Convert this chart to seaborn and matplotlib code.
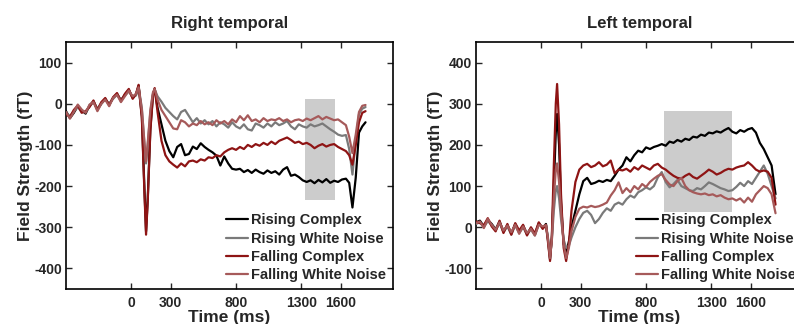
import numpy as np
import pandas as pd
import matplotlib
matplotlib.use("Agg")
import matplotlib.pyplot as plt
import seaborn as sns

sns.set_theme(style="ticks")
plt.rcParams.update({
    'font.family': ['Liberation Sans', 'DejaVu Sans'],
    'font.weight': 'bold',
    'axes.labelweight': 'bold',
    'axes.titleweight': 'bold',
    'axes.edgecolor': 'black',
    'axes.linewidth': 1.2,
    'axes.unicode_minus': False,
})

# ---- data (ms, fT) ----
t_left = [-500, -470, -440, -410, -380, -350, -320, -290, -260, -230,
          -200, -170, -140, -110, -80, -50, -20,
          10, 35, 55, 80, 100, 112, 125, 145, 165, 178, 200,
          230, 260, 290, 320, 350, 380, 410, 440, 470, 500,
          530, 560, 590, 620, 650, 680, 710, 740, 770, 800,
          830, 860, 890, 920, 950, 980, 1010, 1040, 1070, 1100,
          1130, 1160, 1190, 1220, 1250, 1280, 1310, 1340, 1370, 1400,
          1430, 1460, 1490, 1520, 1550, 1580, 1610, 1640,
          1665, 1690, 1715, 1740, 1765, 1790]

rt_rising_complex = [-18, -35, -22, -6, -16, -24, -4, 6, -14, 0,
                     12, -2, 14, 24, 8, 22, 34,
                     14, 22, 44, -30, -210, -310, -230, -60, 22, 36, -10,
                     -50, -90, -115, -130, -105, -98, -125, -122, -104, -110,
                     -96, -105, -112, -118, -126, -150, -128, -145, -158, -160,
                     -158, -166, -161, -168, -160, -166, -170, -162, -168, -164,
                     -172, -160, -154, -175, -172, -178, -186, -190, -186, -193,
                     -185, -191, -183, -192, -187, -190, -184, -182,
                     -192, -252, -180, -70, -55, -45]
rt_rising_noise = [-22, -30, -18, -8, -20, -20, -6, 4, -12, 2,
                   10, 0, 12, 22, 10, 20, 30,
                   16, 20, 40, -10, -100, -145, -100, -20, 25, 35, 18,
                   5, -10, -20, -30, -38, -20, -15, -30, -45, -35,
                   -48, -40, -50, -42, -55, -45, -50, -58, -45, -55,
                   -60, -50, -62, -65, -48, -52, -58, -48, -55, -45,
                   -52, -48, -42, -55, -62, -50, -55, -58, -50, -55,
                   -52, -48, -55, -62, -68, -75, -78, -76,
                   -110, -172, -90, -25, -12, -8]
rt_falling_complex = [-25, -32, -15, -4, -22, -18, -8, 8, -16, 4,
                      14, -4, 16, 26, 6, 24, 36,
                      12, 24, 46, -35, -220, -318, -235, -65, 20, 38, -20,
                      -90, -125, -140, -148, -155, -145, -152, -140, -138, -142,
                      -135, -138, -130, -132, -125, -128, -118, -112, -108, -112,
                      -105, -110, -100, -105, -98, -102, -95, -100, -92, -98,
                      -90, -86, -82, -88, -95, -92, -98, -95, -100, -108,
                      -102, -98, -104, -100, -98, -105, -110, -115,
                      -125, -148, -100, -45, -22, -18]
rt_falling_noise = [-20, -36, -20, -2, -14, -22, -2, 4, -18, 0,
                    10, -6, 14, 22, 4, 18, 32,
                    18, 24, 40, -15, -95, -140, -95, -15, 28, 36, 10,
                    -15, -30, -45, -60, -62, -40, -45, -55, -48, -52,
                    -42, -50, -45, -52, -40, -48, -42, -50, -38, -45,
                    -30, -40, -28, -42, -38, -45, -35, -42, -38, -40,
                    -35, -42, -38, -45, -40, -38, -42, -36, -40, -35,
                    -30, -38, -32, -36, -40, -38, -45, -52,
                    -80, -120, -75, -20, -5, -3]

t_right = [-500, -470, -440, -410, -380, -350, -320, -290, -260, -230,
           -200, -170, -140, -110, -80, -50, -20,
           10, 35, 50, 66, 80, 95, 110, 120, 135, 150, 170, 189, 210, 230,
           260, 290, 320, 350, 380, 410, 440, 470, 500, 530,
           560, 590, 620, 650, 680, 710, 740, 770, 800, 830,
           860, 890, 920, 950, 980, 1010, 1040, 1070, 1100, 1130,
           1160, 1190, 1220, 1250, 1280, 1310, 1340, 1370, 1400, 1430,
           1460, 1490, 1520, 1550, 1580, 1610, 1640, 1670, 1700, 1730,
           1760, 1790]

lt_rising_complex = [12, 16, 2, 18, 8, -5, 14, -10, 5, -15,
                     8, -12, 4, -16, -2, -18, 10,
                     -2, 8, -30, -78, -25, 100, 230, 275, 200, 60, -40, -62, -35, 0,
                     40, 80, 112, 120, 105, 108, 113, 110, 115, 112,
                     125, 140, 150, 170, 160, 175, 186, 182, 194, 190,
                     195, 198, 202, 198, 208, 205, 212, 208, 215, 212,
                     220, 218, 225, 222, 230, 228, 233, 230, 236, 241,
                     232, 228, 236, 232, 238, 241, 230, 205, 190, 170,
                     150, 80]
lt_rising_noise = [8, 12, 0, 15, 5, -8, 10, -12, 2, -18,
                   5, -14, 0, -18, -5, -20, 8,
                   0, 5, -25, -70, -30, 40, 90, 100, 70, 20, -30, -50, -45, -25,
                   0, 20, 35, 40, 30, 10, 20, 35, 46, 40,
                   55, 60, 55, 68, 77, 72, 85, 90, 97, 92,
                   100, 121, 134, 110, 97, 105, 115, 100, 95, 90,
                   88, 95, 92, 100, 109, 105, 100, 95, 92, 88,
                   90, 98, 108, 100, 112, 105, 120, 135, 150, 130,
                   100, 70]
lt_falling_complex = [14, 10, 5, 22, 2, -10, 16, -14, 8, -18,
                      10, -8, 6, -20, 0, -15, 12,
                      -4, 6, -35, -82, -20, 150, 300, 348, 250, 80, -50, -82, -40, 40,
                      110, 140, 150, 154, 146, 150, 158, 148, 152, 162,
                      131, 140, 138, 142, 135, 146, 140, 150, 145, 140,
                      150, 154, 145, 140, 132, 125, 120, 118, 125, 130,
                      122, 118, 125, 132, 140, 135, 128, 132, 138, 142,
                      140, 145, 148, 150, 158, 150, 140, 135, 138, 135,
                      120, 55]
lt_falling_noise = [10, 14, -2, 20, 6, -6, 12, -8, 4, -12,
                    6, -16, 2, -14, -4, -20, 6,
                    2, 5, -28, -75, -30, 70, 140, 155, 110, 40, -40, -75, -50, -10,
                    25, 45, 50, 48, 52, 49, 51, 55, 60, 77,
                    90, 109, 83, 95, 85, 100, 92, 105, 98, 110,
                    118, 125, 129, 115, 104, 100, 112, 120, 100, 90,
                    85, 82, 80, 82, 78, 80, 75, 78, 72, 68,
                    70, 65, 70, 60, 72, 62, 80, 90, 100, 95,
                    80, 34]

labels = ['Rising Complex', 'Rising White Noise', 'Falling Complex', 'Falling White Noise']
colors = ['#000000', '#7a7a7a', '#8e1414', '#a65a5a']

x_ticks = [0, 300, 800, 1300, 1600]
rt_yticks = [-400, -300, -200, -100, 0, 100]
lt_yticks = [-100, 0, 100, 200, 300, 400]

# analysis window shading (time range, field range)
rt_window = ([1330, 1560], -233, 12)
lt_window = ([940, 1460], 37, 283)

panels = [
    dict(title='Right temporal', t=t_left,
         series=[rt_rising_complex, rt_rising_noise, rt_falling_complex, rt_falling_noise],
         ylim=(-450, 150), yticks=rt_yticks, window=rt_window),
    dict(title='Left temporal', t=t_right,
         series=[lt_rising_complex, lt_rising_noise, lt_falling_complex, lt_falling_noise],
         ylim=(-150, 450), yticks=lt_yticks, window=lt_window),
]

W, H = 794, 324
fig = plt.figure(figsize=(W / 100, H / 100), dpi=100)
ax_boxes = [[66 / W, 35 / H, 327 / W, 247 / H],
            [476 / W, 35 / H, 327 / W, 247 / H]]

for box, p in zip(ax_boxes, panels):
    ax = fig.add_axes(box)
    xs, y0, y1 = p['window']
    ax.fill_between(xs, y0, y1, color='#cccccc', lw=0, zorder=1)
    for vals, lab, col in zip(p['series'], labels, colors):
        df = pd.DataFrame({'time': p['t'], 'field': vals})
        sns.lineplot(data=df, x='time', y='field', ax=ax, color=col,
                     lw=1.6, label=lab, zorder=3)
    ax.set_xlim(-500, 2000)
    ax.set_ylim(*p['ylim'])
    ax.set_xticks(x_ticks)
    ax.set_yticks(p['yticks'])
    ax.tick_params(direction='in', top=True, right=True, length=4, width=1,
                   labelsize=10, pad=3)
    ax.tick_params(axis='x', pad=5)
    ax.set_title(p['title'], fontsize=12, pad=10)
    ax.set_xlabel('Time (ms)', fontsize=12.5, labelpad=0)
    ax.set_ylabel('Field Strength (fT)', fontsize=12.5, labelpad=1)
    ax.legend(loc='lower right', frameon=False, fontsize=10.5, handlelength=1.5,
              handletextpad=0.25, labelspacing=0.3, borderaxespad=0.05)

fig.savefig('out.png', dpi=100)
